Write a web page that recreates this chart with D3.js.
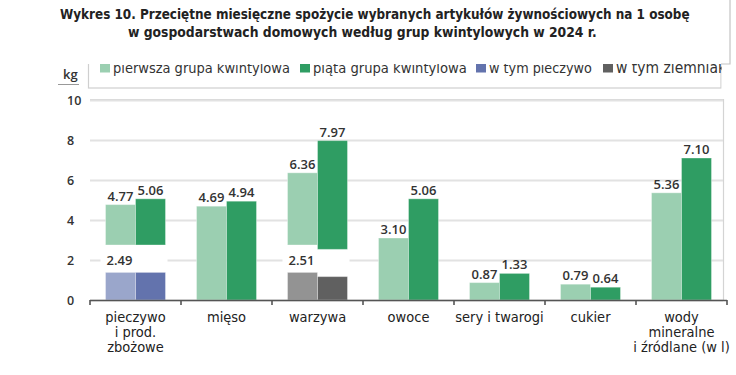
<!DOCTYPE html>
<html><head><meta charset="utf-8">
<script src="https://cdn.jsdelivr.net/npm/d3@7"></script>
<style>
html,body{margin:0;padding:0;background:#fff;}
svg{display:block;}
</style></head>
<body>
<svg id="chart" width="736" height="375"></svg>
<script>
// ---- data ----
const titleLines = ["Wykres 10. Przeciętne miesięczne spożycie wybranych artykułów żywnościowych na 1 osobę",
                    "w gospodarstwach domowych według grup kwintylowych w 2024 r."];
const categories = ["pieczywo i prod. zbożowe","mięso","warzywa","owoce","sery i twarogi","cukier","wody mineralne i źródlane (w l)"];
const categoryLines = [["pieczywo","i prod.","zbożowe"],["mięso"],["warzywa"],["owoce"],["sery i twarogi"],["cukier"],["wody","mineralne","i źródlane (w l)"]];
const firstGroup = [4.77,4.69,6.36,3.10,0.87,0.79,5.36];
const fifthGroup = [5.06,4.94,7.97,5.06,1.33,0.64,7.10];
// visible start of the (broken) bars
const firstBase = [2.75,0,2.75,0,0,0,0];
const fifthBase = [2.75,0,2.53,0,0,0,0];
// "w tym" sub-bars
const subCategories = ["pieczywo i prod. zbożowe","warzywa"];
const subFirst = [1.38,1.38];
const subFifth = [1.38,1.17];
const subLabels = ["2.49","2.51"];
const subNames = ["w tym pieczywo","w tym ziemniaki"];
const legendNames = ["pierwsza grupa kwintylowa","piąta grupa kwintylowa","w tym pieczywo","w tym ziemniaki"];
const yTicks = [0,2,4,6,8,10];
const yUnit = "kg";

// ---- styles ----
const C = {first:"#9bcfb1", fifth:"#2f9d63", subFirst:["#9aa6cb","#939393"], subFifth:["#6373ad","#606060"]};
const legendColors = [C.first, C.fifth, C.subFifth[0], C.subFifth[1]];
const condensed = "'Liberation Sans Narrow','DejaVu Sans Condensed','Open Sans',sans-serif";
const numFont = "'Open Sans','Liberation Sans',sans-serif";

const svg = d3.select("#chart");
const x = d3.scaleBand().domain(categories).range([90,727]);
const y = d3.scaleLinear().domain([0,10]).range([300,100]);
const bw = x.bandwidth();
const x1 = d3.scaleBand().domain(["first","fifth"]).range([(bw-60)/2,(bw+60)/2]);

function fit(sel, w){
  const n = sel.node(); const fs = parseFloat(sel.attr("font-size"));
  const l = n.getComputedTextLength(); if(l>0) sel.attr("font-size", fs*w/l);
}

// plot frame
svg.append("path").attr("d","M90,99.5H723.5V300").attr("fill","none").attr("stroke","#d4d4d4").attr("stroke-width",1.2);

// gridlines
const gy = svg.append("g").attr("transform","translate(90,0)")
  .call(d3.axisLeft(y).tickValues(yTicks).tickSize(-(723-90)).tickFormat(d3.format("d")));
gy.select(".domain").remove();
gy.selectAll(".tick line").attr("stroke","#e2e2e2").attr("stroke-width",2);
gy.selectAll(".tick text").attr("x",-23).attr("text-anchor","start").attr("dy","0.36em")
  .attr("font-family",numFont).attr("font-size",12.5).attr("font-weight",600).attr("fill","#333");

// sub-label backgrounds (mask grid)
const subIdx = subCategories.map(c=>categories.indexOf(c));
svg.selectAll("rect.subbg").data(subCategories).join("rect")
  .attr("x",c=>x(c)+bw/2-35).attr("width",67).attr("y",y(2)-6).attr("height",12).attr("fill","#fff");

// main bars
const bars = svg.append("g");
categories.forEach((c,i)=>{
  [["first",firstGroup,firstBase,C.first],["fifth",fifthGroup,fifthBase,C.fifth]].forEach(([k,vals,base,col])=>{
    bars.append("rect").attr("x",x(c)+x1(k)).attr("width",x1.bandwidth())
      .attr("y",y(vals[i])).attr("height",y(base[i])-y(vals[i]))
      .attr("fill",col).attr("stroke","#fff").attr("stroke-opacity",0.35).attr("stroke-width",1);
    bars.append("text").attr("x",x(c)+x1(k)+x1.bandwidth()/2).attr("y",y(vals[i])-4)
      .attr("text-anchor","middle").attr("font-family",numFont).attr("font-size",13).attr("font-weight",600)
      .attr("fill","#333").text(d3.format(".2f")(vals[i]));
  });
});
// sub bars
subCategories.forEach((c,j)=>{
  bars.append("rect").attr("x",x(c)+x1("first")).attr("width",x1.bandwidth()).attr("y",y(subFirst[j])).attr("height",y(0)-y(subFirst[j]))
    .attr("fill",C.subFirst[j]).attr("stroke","#fff").attr("stroke-opacity",0.35);
  bars.append("rect").attr("x",x(c)+x1("fifth")).attr("width",x1.bandwidth()).attr("y",y(subFifth[j])).attr("height",y(0)-y(subFifth[j]))
    .attr("fill",C.subFifth[j]).attr("stroke","#fff").attr("stroke-opacity",0.35);
  bars.append("text").attr("x",x(c)+x1("first")+1).attr("y",y(2)+4.5)
    .attr("font-family",numFont).attr("font-size",13).attr("font-weight",600).attr("fill","#333").text(subLabels[j]);
});

// x axis
const ax = svg.append("g").attr("stroke","#555").attr("stroke-width",1.6);
ax.append("line").attr("x1",90).attr("x2",727).attr("y1",300.5).attr("y2",300.5);
const bounds = categories.map(c=>x(c)).concat([x.range()[1]]);
ax.selectAll("line.t").data(bounds).join("line").attr("x1",d=>d).attr("x2",d=>d).attr("y1",300).attr("y2",305);

// category labels
categories.forEach((c,i)=>{
  const t = svg.append("text").attr("x",x(c)+bw/2).attr("y",321.5).attr("text-anchor","middle")
    .attr("font-family",condensed).attr("font-size",14.5).attr("fill","#222");
  categoryLines[i].forEach((l,k)=>t.append("tspan").attr("x",x(c)+bw/2).attr("dy",k?15:0).text(l));
});

// unit
svg.append("text").attr("x",63).attr("y",79).attr("font-family",numFont).attr("font-size",13).attr("font-weight",600).attr("fill","#333").text(yUnit);
svg.append("line").attr("x1",58).attr("x2",79).attr("y1",84.5).attr("y2",84.5).attr("stroke","#999").attr("stroke-width",1);

// legend box
svg.append("rect").attr("x",88.5).attr("y",50).attr("width",632.5).attr("height",38).attr("fill","#fff").attr("stroke","#cfcfcf").attr("stroke-width",1.2);
const legX = [100,300,476,603], legEnd = [290,467,592,730];
legendNames.forEach((n,i)=>{
  svg.append("rect").attr("x",legX[i]).attr("y",63.5).attr("width",10).attr("height",9).attr("fill",legendColors[i]);
  const t = svg.append("text").attr("x",legX[i]+13).attr("y",72.5).attr("font-family",condensed).attr("font-size",15).attr("fill","#333").text(n);
  fit(t, legEnd[i]-legX[i]-13);
});
// clip legend on the right (box edge)
svg.append("rect").attr("x",721.6).attr("y",60).attr("width",20).attr("height",30).attr("fill","#fff");

// title box overlay
svg.append("rect").attr("x",0).attr("y",0).attr("width",730).attr("height",64).attr("fill","#fff");
svg.append("path").attr("d","M730,0V64H721").attr("fill","none").attr("stroke","#c4c4c4").attr("stroke-width",1.2);
const t1 = svg.append("text").attr("x",60).attr("y",19).attr("font-family",condensed).attr("font-weight",700).attr("font-size",14).attr("fill","#222").text(titleLines[0]);
fit(t1, 630);
const t2 = svg.append("text").attr("x",128).attr("y",37).attr("font-family",condensed).attr("font-weight",700).attr("font-size",14).attr("fill","#222").text(titleLines[1]);
fit(t2, 469);
</script>
</body></html>
